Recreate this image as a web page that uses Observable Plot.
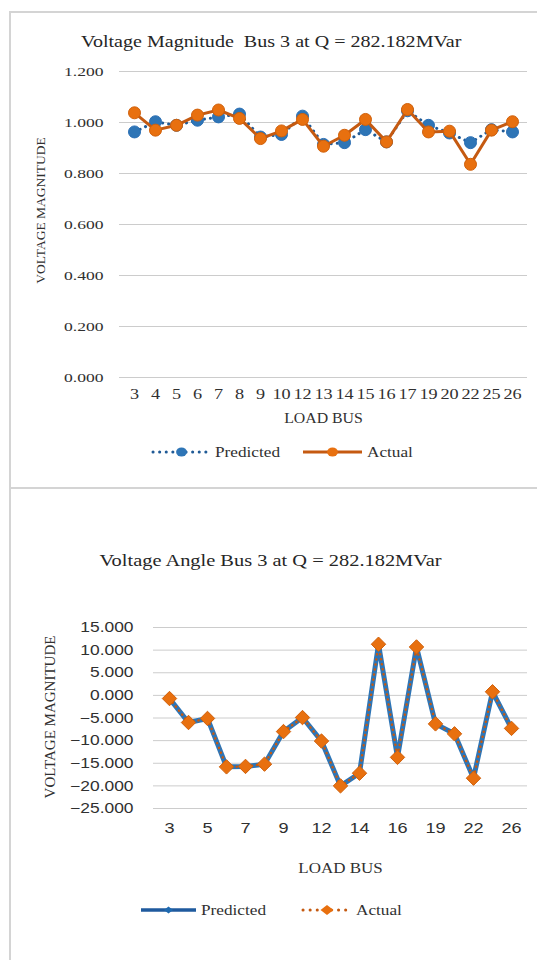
<!DOCTYPE html>
<html>
<head>
<meta charset="utf-8">
<script src="https://cdn.jsdelivr.net/npm/d3@7"></script>
<script src="https://cdn.jsdelivr.net/npm/@observablehq/plot@0.6"></script>
<style>
  html, body { margin: 0; padding: 0; background: #fff; }
  #page { position: relative; width: 537px; height: 960px; overflow: hidden; background: #fff; }
  .frame { position: absolute; border: 2px solid #d4d4d4; box-sizing: border-box; }
  .title { position: absolute; left: 0; width: 537px; text-align: center; font-family: "Liberation Serif", "DejaVu Serif", serif; font-size: 17px; color: #262626; white-space: nowrap; }
  .title span { display: inline-block; transform-origin: center; }
  .plot { position: absolute; left: 0; }
  .legend { position: absolute; }
</style>
</head>
<body>
<div id="page">
  <div class="frame" style="left:9px; top:11px; width:540px; height:478px;"></div>
  <div class="frame" style="left:9px; top:487px; width:540px; height:480px;"></div>
  <div class="title" style="top:32px; left:3px;"><span style="transform:scaleX(1.18)">Voltage Magnitude&nbsp; Bus 3 at Q = 282.182MVar</span></div>
  <div class="plot" id="p1" style="top:55px;"></div>
  <div class="legend" id="l1" style="left:0; top:440px;"></div>
  <div class="title" style="top:551px; left:2px;"><span style="transform:scaleX(1.2)">Voltage Angle Bus 3 at Q = 282.182MVar</span></div>
  <div class="plot" id="p2" style="top:610px;"></div>
  <div class="legend" id="l2" style="left:0; top:898px;"></div>
</div>
<script>
// ---- data ----
const loadBus = ["3","4","5","6","7","8","9","10","12","13","14","15","16","17","19","20","22","25","26"];
const magPredicted = [0.963,1.003,0.989,1.009,1.022,1.033,0.943,0.953,1.025,0.914,0.921,0.972,0.924,1.046,0.989,0.959,0.921,0.972,0.963];
const magActual    = [1.038,0.970,0.989,1.029,1.049,1.016,0.937,0.967,1.012,0.907,0.950,1.012,0.924,1.051,0.963,0.966,0.836,0.970,1.003];
const magTicks = [0,0.2,0.4,0.6,0.8,1.0,1.2];
const angPredicted = [-0.7,-6.0,-5.1,-15.8,-15.7,-15.2,-8.0,-4.9,-10.1,-20.0,-17.2,11.3,-13.7,10.7,-6.3,-8.5,-18.3,0.8,-7.3];
const angActual    = [-0.7,-6.0,-5.1,-15.8,-15.7,-15.2,-8.0,-4.9,-10.1,-20.0,-17.2,11.3,-13.7,10.7,-6.3,-8.5,-18.3,0.8,-7.3];
const angTicks = [-25,-20,-15,-10,-5,0,5,10,15];
const angXTicks = ["3","5","7","9","12","14","16","19","22","26"];
const yTitle = "VOLTAGE MAGNITUDE";
const xTitle = "LOAD BUS";

const serif = "Liberation Serif, Times New Roman, serif";
const sans = "Liberation Sans, Arial, sans-serif";
const blue = "#2e75b6", blueDark = "#1f5a96", orange = "#e8700f", orangeLine = "#c55a11";
const textColor = "#303030";
const gridColor = "#cccccc";

const magData = loadBus.map((b,i)=>({bus:b, pred:magPredicted[i], act:magActual[i]}));
const angData = loadBus.map((b,i)=>({bus:b, pred:angPredicted[i], act:angActual[i]}));

// widen text horizontally (the reference glyphs are stretched)
function stretch(root, selector, k) {
  root.querySelectorAll(selector).forEach(t => {
    const len = t.getComputedTextLength();
    if (len > 0) {
      t.setAttribute("textLength", len * k);
      t.setAttribute("lengthAdjust", "spacingAndGlyphs");
    }
  });
}

// ---- chart 1 ----
const p1 = Plot.plot({
  width: 537, height: 380,
  marginLeft: 119, marginRight: 10, marginTop: 16, marginBottom: 58,
  style: {fontFamily: serif, color: textColor, background: "transparent"},
  x: {type: "point", domain: loadBus, padding: 0.5},
  y: {domain: [0, 1.2]},
  marks: [
    Plot.gridY(magTicks, {stroke: gridColor, strokeOpacity: 1, strokeWidth: 1}),
    Plot.axisY(magTicks, {tickSize: 0, tickPadding: 16, tickFormat: d3.format(".3f"), fontSize: 13.5, fontFamily: serif, label: null}),
    Plot.text([yTitle], {frameAnchor: "left", textAnchor: "middle", rotate: -90, dx: -79, dy: -14, fontSize: 13.5, fontFamily: serif, fill: textColor}),
    Plot.axisX({tickSize: 0, tickPadding: 12, fontSize: 14, fontFamily: serif,
      label: xTitle, labelAnchor: "center", labelOffset: 45, labelArrow: "none"}),
    Plot.line(magData, {x: "bus", y: "pred", stroke: blueDark, strokeWidth: 3, strokeDasharray: "0.1 6", strokeLinecap: "round"}),
    Plot.dot(magData, {x: "bus", y: "pred", r: 6, fill: blue, stroke: "#2a6fb5", strokeWidth: 1}),
    Plot.line(magData, {x: "bus", y: "act", stroke: orangeLine, strokeWidth: 3}),
    Plot.dot(magData, {x: "bus", y: "act", r: 6, fill: orange, stroke: "#d0600a", strokeWidth: 1})
  ]
});
document.getElementById("p1").append(p1);
stretch(p1, 'g[aria-label="y-axis tick label"] text', 1.3);
stretch(p1, 'g[aria-label="x-axis tick label"] text', 1.3);
stretch(p1, 'g[aria-label="x-axis label"] text', 1.13);

// ---- chart 2 ----
const p2 = Plot.plot({
  width: 537, height: 280,
  marginLeft: 153, marginRight: 10, marginTop: 17, marginBottom: 82,
  style: {fontFamily: sans, color: textColor, background: "transparent"},
  x: {type: "point", domain: loadBus, padding: 0.5},
  y: {domain: [-25, 15]},
  marks: [
    Plot.gridY(angTicks, {stroke: gridColor, strokeOpacity: 1, strokeWidth: 1}),
    Plot.axisY(angTicks, {tickSize: 0, tickPadding: 20, tickFormat: d3.format(".3f"), fontSize: 14.5, fontFamily: sans, label: null}),
    Plot.text([yTitle], {frameAnchor: "left", textAnchor: "middle", rotate: -90, dx: -103, dy: -1, fontSize: 15, fontFamily: serif, fill: textColor}),
    Plot.axisX(angXTicks, {tickSize: 0, tickPadding: 14, fontSize: 14.5, fontFamily: sans, label: null}),
    Plot.axisX(angXTicks, {tickSize: 0, tickFormat: () => "", fontFamily: serif, fontSize: 15,
      label: xTitle, labelAnchor: "center", labelOffset: 64, labelArrow: "none"}),
    Plot.line(angData, {x: "bus", y: "pred", stroke: blue, strokeWidth: 5}),
    Plot.dot(angData, {x: "bus", y: "pred", symbol: "diamond2", r: 4, fill: blue}),
    Plot.line(angData, {x: "bus", y: "act", stroke: orangeLine, strokeWidth: 2.5, strokeDasharray: "0.1 5", strokeLinecap: "round"}),
    Plot.dot(angData, {x: "bus", y: "act", symbol: "diamond2", r: 6.5, fill: orange, stroke: "#d0600a", strokeWidth: 1})
  ]
});
document.getElementById("p2").append(p2);
stretch(p2, 'g[aria-label="y-axis tick label"] text', 1.2);
stretch(p2, 'g[aria-label="x-axis tick label"] text', 1.25);
stretch(p2, 'g[aria-label="x-axis label"] text', 1.13);

// ---- legends ----
function legend(el, items) {
  const ns = "http://www.w3.org/2000/svg";
  const svg = document.createElementNS(ns, "svg");
  svg.setAttribute("width", 537); svg.setAttribute("height", 24);
  svg.style.fontFamily = serif; svg.style.fontSize = "14px";
  for (const it of items) {
    const line = document.createElementNS(ns, "line");
    line.setAttribute("x1", it.x0); line.setAttribute("x2", it.x1);
    line.setAttribute("y1", 12); line.setAttribute("y2", 12);
    line.setAttribute("stroke", it.stroke); line.setAttribute("stroke-width", it.sw);
    if (it.dash) { line.setAttribute("stroke-dasharray", it.dash); line.setAttribute("stroke-linecap", "round"); }
    svg.append(line);
    const cx = (it.x0 + it.x1) / 2;
    let m;
    if (it.shape === "circle") {
      m = document.createElementNS(ns, "ellipse");
      m.setAttribute("cx", cx); m.setAttribute("cy", 12); m.setAttribute("rx", it.r * 1.2); m.setAttribute("ry", it.r);
    } else {
      m = document.createElementNS(ns, "path");
      const r = it.r, rx = r * 1.3;
      m.setAttribute("d", `M${cx},${12-r}L${cx+rx},12L${cx},${12+r}L${cx-rx},12Z`);
    }
    m.setAttribute("fill", it.fill);
    svg.append(m);
    const t = document.createElementNS(ns, "text");
    t.setAttribute("x", it.x1 + 5); t.setAttribute("y", 12); t.setAttribute("dy", "0.35em");
    t.setAttribute("fill", textColor);
    t.textContent = it.label;
    svg.append(t);
  }
  el.append(svg);
  stretch(svg, "text", 1.23);
}
legend(document.getElementById("l1"), [
  {x0: 153, x1: 210, stroke: blueDark, sw: 3, dash: "0.1 6.5", shape: "circle", r: 4.5, fill: blue, label: "Predicted"},
  {x0: 303, x1: 362, stroke: orangeLine, sw: 3, shape: "circle", r: 4.5, fill: orange, label: "Actual"}
]);
legend(document.getElementById("l2"), [
  {x0: 141, x1: 196, stroke: "#1f5a9e", sw: 3.5, shape: "diamond", r: 3.5, fill: "#1f6ab0", label: "Predicted"},
  {x0: 303, x1: 351, stroke: orangeLine, sw: 3, dash: "0.1 7", shape: "diamond", r: 5, fill: orange, label: "Actual"}
]);
</script>
</body>
</html>
